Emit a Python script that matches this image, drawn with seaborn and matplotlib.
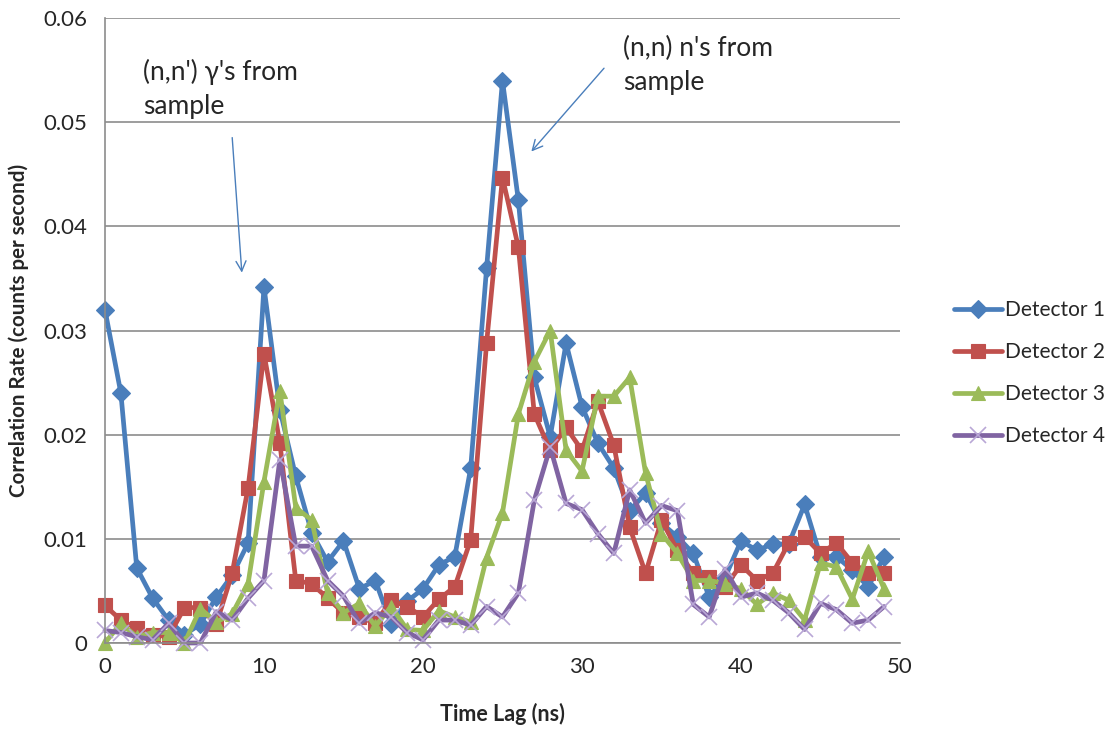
import numpy as np
import pandas as pd
import matplotlib.pyplot as plt
import seaborn as sns

# time lag (ns) and correlation rate per detector
lag_ns = list(range(50))

det1 = [0.032, 0.024, 0.0072, 0.0043, 0.0022, 0.0008, 0.0018, 0.0044, 0.0065, 0.0096,
        0.0342, 0.0224, 0.016, 0.0106, 0.0078, 0.0098, 0.0052, 0.006, 0.0018, 0.004,
        0.0052, 0.0075, 0.0083, 0.0168, 0.036, 0.054, 0.0425, 0.0255, 0.0198, 0.0288,
        0.0227, 0.0192, 0.0168, 0.0127, 0.0144, 0.0115, 0.0102, 0.0086, 0.0044, 0.0063,
        0.0098, 0.0089, 0.0095, 0.0095, 0.0133, 0.0083, 0.0083, 0.007, 0.0054, 0.0083]
det2 = [0.0036, 0.0022, 0.0014, 0.0008, 0.0006, 0.0034, 0.0034, 0.0018, 0.0067, 0.0149,
        0.0278, 0.0192, 0.006, 0.0057, 0.0043, 0.0029, 0.0025, 0.0019, 0.0041, 0.0035,
        0.0025, 0.0042, 0.0054, 0.0099, 0.0288, 0.0447, 0.038, 0.022, 0.0185, 0.0207,
        0.0185, 0.0232, 0.019, 0.0111, 0.0067, 0.0118, 0.0089, 0.0067, 0.0063, 0.0054,
        0.0075, 0.006, 0.0067, 0.0096, 0.0102, 0.0086, 0.0096, 0.0077, 0.0067, 0.0067]
det3 = [0.0, 0.0019, 0.0006, 0.001, 0.001, 0.0, 0.0033, 0.002, 0.0028, 0.0057,
        0.0155, 0.0242, 0.013, 0.0118, 0.0048, 0.0029, 0.0038, 0.0016, 0.0035, 0.0013,
        0.0012, 0.0031, 0.0025, 0.002, 0.0082, 0.0125, 0.022, 0.027, 0.030, 0.0185,
        0.0165, 0.0237, 0.0237, 0.0255, 0.0163, 0.0105, 0.0086, 0.006, 0.006, 0.0057,
        0.0052, 0.0037, 0.0048, 0.0041, 0.0022, 0.0077, 0.0073, 0.0042, 0.0088, 0.0052]
det4 = [0.0012, 0.001, 0.0006, 0.0003, 0.0019, 0.0, 0.0, 0.003, 0.0022, 0.0043,
        0.006, 0.0176, 0.0093, 0.0093, 0.006, 0.0045, 0.0019, 0.0029, 0.0025, 0.001,
        0.0003, 0.0022, 0.0022, 0.0017, 0.0035, 0.0025, 0.0048, 0.0137, 0.0188, 0.0134,
        0.0128, 0.0105, 0.0086, 0.0147, 0.0115, 0.0132, 0.0127, 0.0037, 0.0025, 0.0071,
        0.0044, 0.0048, 0.0041, 0.0029, 0.0013, 0.0038, 0.0032, 0.0019, 0.0022, 0.0035]

names = ['Detector 1', 'Detector 2', 'Detector 3', 'Detector 4']
colors = ['#4A7EBB', '#C0504D', '#9BBB59', '#8064A2']
marks = ['D', 's', '^', 'x']
sizes = [9, 9.5, 10, 11]

sns.set_style('white')
plt.rcParams['font.family'] = ['Lato', 'DejaVu Sans']

fig = plt.figure(figsize=(11.19, 7.29), dpi=100)
ax = fig.add_axes([0.0938, 0.118, 0.7105, 0.857])

for vals, n, c, m, s in zip([det1, det2, det3, det4], names, colors, marks, sizes):
    d = pd.DataFrame({'lag': lag_ns, 'rate': vals})
    sns.lineplot(data=d, x='lag', y='rate', color=c, marker=m, ax=ax,
                 linewidth=3.4, label=n, legend=False)
    line = ax.lines[-1]
    line.set_markersize(s)
    line.set_clip_on(False)
    if m == 'x':
        line.set_markeredgecolor('#B9A7D6')
        line.set_markeredgewidth(1.2)
    else:
        line.set_markeredgecolor(c)
        line.set_markerfacecolor(c)
        line.set_markeredgewidth(0.8)

ax.set_xlim(0, 50)
ax.set_ylim(0, 0.06)
ax.set_xticks([0, 10, 20, 30, 40, 50])
ax.set_yticks([0, 0.01, 0.02, 0.03, 0.04, 0.05, 0.06])
ax.set_yticklabels(['0', '0.01', '0.02', '0.03', '0.04', '0.05', '0.06'])
ax.yaxis.grid(True, color='#8C8C8C', linewidth=1.2)
ax.xaxis.grid(False)
ax.set_axisbelow(True)
for sp in ['top', 'right']:
    ax.spines[sp].set_visible(False)
for sp in ['left', 'bottom']:
    ax.spines[sp].set_color('#8C8C8C')
    ax.spines[sp].set_linewidth(1.2)
ax.tick_params(axis='x', direction='out', length=5, color='#8C8C8C',
               labelsize=16, pad=5)
ax.tick_params(axis='y', length=0, labelsize=16, pad=13)

ax.set_xlabel('Time Lag (ns)', fontsize=15.5, fontweight='bold', labelpad=19)
ax.set_ylabel('Correlation Rate (counts per second)', fontsize=14.8,
              fontweight='bold', labelpad=10)

ax.text(2.4, 0.0561, "(n,n') γ's from\nsample", fontsize=19, va='top',
        ha='left', linespacing=1.45)
ax.annotate('', xy=(8.62, 0.0353), xytext=(7.99, 0.0488),
            arrowprops=dict(arrowstyle='->', color='#4A7EBB', lw=1,
                            mutation_scale=18))
ax.text(32.6, 0.0583, "(n,n) n's from\nsample", fontsize=19, va='top',
        ha='left', linespacing=1.45)
ax.annotate('', xy=(26.7, 0.047), xytext=(31.5, 0.0554),
            arrowprops=dict(arrowstyle='->', color='#4A7EBB', lw=1,
                            mutation_scale=18))

handles = [plt.Line2D([], [], color=c, marker=m, linewidth=3.4,
                      markersize=s,
                      markeredgecolor=('#B9A7D6' if m == 'x' else c),
                      markeredgewidth=(1.2 if m == 'x' else 0.8))
           for c, m, s in zip(colors, marks, sizes)]
fig.legend(handles, names, loc='center left', bbox_to_anchor=(0.836, 0.488),
           frameon=False, fontsize=15, handlelength=2.3, handletextpad=0.15,
           labelspacing=1.05)

fig.savefig('out.png', dpi=100)
